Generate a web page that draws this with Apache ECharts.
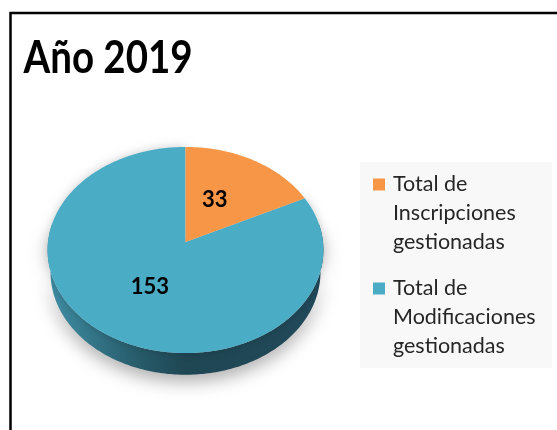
<!DOCTYPE html>
<html>
<head>
<meta charset="utf-8">
<script src="https://cdn.jsdelivr.net/npm/echarts@6/dist/echarts.min.js"></script>
<style>
  html, body { margin: 0; padding: 0; background: #fff; }
  #main { width: 557px; height: 430px; }
</style>
</head>
<body>
<div id="main"></div>
<script>
// datos del gráfico
var categories = ["Total de Inscripciones gestionadas", "Total de Modificaciones gestionadas"];
var values = [33, 153];
var titleText = "Año 2019";

(function () {
  var myChart = echarts.init(document.getElementById("main"));

  var colors = ["#F79646", "#4BACC6"];
  // parámetros de la vista 3D (perspectiva)
  var CX = 185.5, CY = 242, S = 137.5;
  var R_D = 0.116, SIN_A = 0.745, COS_A = 0.667, H = 0.25;

  var total = values.reduce(function (a, b) { return a + b; }, 0);
  var starts = [];
  var acc = 0;
  values.forEach(function (v) {
    starts.push(acc / total * 360);
    acc += v;
  });

  function project(deg, rad, y) {
    var p = deg * Math.PI / 180;
    var X = rad * Math.sin(p);
    var Z = -rad * Math.cos(p);
    var dr = 1 - R_D * (y * SIN_A + Z * COS_A);
    return [CX + S * X / dr, CY - S * (y * COS_A - Z * SIN_A) / dr];
  }

  function arc(a, b, y) {
    var pts = [];
    var n = Math.max(2, Math.ceil(Math.abs(b - a)));
    for (var k = 0; k <= n; k++) {
      pts.push(project(a + (b - a) * k / n, 1, y));
    }
    return pts;
  }

  function makeRender(i) {
    return function (params, api) {
      var a = starts[i];
      var b = a + api.value(0) / total * 360;
      var children = [];
      // cara lateral visible
      var s1 = Math.max(a, 80), s2 = Math.min(b, 280);
      if (s2 > s1) {
        var side = arc(s1, s2, 0).concat(arc(s1, s2, -H).reverse());
        children.push({
          type: "polygon",
          shape: { points: side },
          style: {
            fill: new echarts.graphic.LinearGradient(0, 0, 1, 0, [
              { offset: 0, color: "#4090a7" },
              { offset: 0.3, color: "#29606f" },
              { offset: 0.5, color: "#1f4653" },
              { offset: 1, color: "#21495a" },
            ]),
            shadowBlur: 18,
            shadowOffsetY: 6,
            shadowColor: "rgba(0,0,0,0.35)",
          },
        });
      }
      // cara superior
      var top = [[CX, CY]].concat(arc(a, b, 0));
      children.push({
        type: "polygon",
        shape: { points: top },
        style: {
          fill: colors[i],
          shadowBlur: i === 1 ? 10 : 0,
          shadowColor: "rgba(0,0,0,0.2)",
        },
      });
      // etiqueta
      var lp = project((a + b) / 2, 0.5, 0);
      children.push({
        type: "text",
        style: {
          text: String(api.value(0)),
          x: lp[0] - (i === 0 ? 6 : -2),
          y: lp[1],
          align: "center",
          verticalAlign: "middle",
          font: "bold 22px Lato",
          fill: "#000",
        },
      });
      return { type: "group", children: children };
    };
  }

  var series = categories.map(function (name, i) {
    return {
      name: name,
      type: "custom",
      coordinateSystem: "none",
      z: i === 0 ? 3 : 2,
      itemStyle: { color: colors[i] },
      data: [values[i]],
      renderItem: makeRender(i),
    };
  });

  var option = {
    animation: false,
    legend: {
      orient: "vertical",
      left: 373,
      top: 170,
      padding: 0,
      itemGap: 17,
      itemWidth: 15,
      itemHeight: 87,
      icon: "path://M0,8.5h12v12h-12z M0,0h0.01v0.01h-0.01z M14.99,86.99h0.01v0.01h-0.01z",
      data: categories,
      selectedMode: false,
      formatter: function (name) {
        return name.replace("Total de ", "Total de\n").replace(" gestionadas", "\ngestionadas");
      },
      textStyle: {
        fontFamily: "Lato",
        fontSize: 21.5,
        lineHeight: 29,
        color: "#262626",
      },
    },
    graphic: [
      {
        type: "rect",
        shape: { x: 360, y: 162, width: 192, height: 206 },
        style: { fill: "#f8f8f8" },
        z: 0,
      },
      {
        type: "polyline",
        shape: { points: [[10.5, 430], [10.5, 13], [557, 13]] },
        style: { stroke: "#000", lineWidth: 2.5, fill: null },
        z: 0,
      },
      // título (tipografía estrecha tipo Calibri)
      {
        type: "text",
        x: 23.5,
        y: 58,
        scaleX: 0.855,
        style: {
          text: titleText,
          x: 0,
          y: 0,
          align: "left",
          verticalAlign: "middle",
          font: "bold 45px Lato",
          fill: "#000",
        },
        z: 5,
      },
    ],
    series: series,
  };
  myChart.setOption(option);
  window.addEventListener("resize", function () {
    myChart.resize();
  });
})();
</script>
</body>
</html>
